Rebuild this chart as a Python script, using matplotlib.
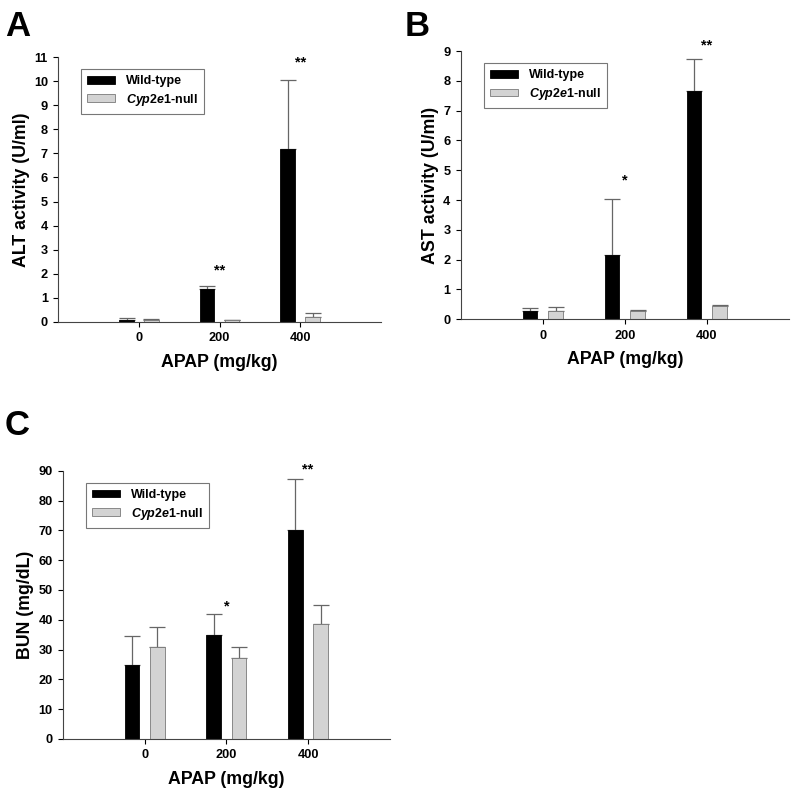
import numpy as np
import matplotlib.pyplot as plt

plt.rcParams['font.family'] = ['Liberation Sans', 'DejaVu Sans']
plt.rcParams['font.weight'] = 'bold'
plt.rcParams['mathtext.fontset'] = 'custom'
plt.rcParams['mathtext.it'] = 'Liberation Sans:italic:bold'
plt.rcParams['mathtext.rm'] = 'Liberation Sans:bold'

# --- данные ---
doses = ['0', '200', '400']

alt_wt = [0.10, 1.35, 7.20]
alt_wt_err = [0.05, 0.15, 2.85]
alt_ko = [0.08, 0.07, 0.22]
alt_ko_err = [0.05, 0.03, 0.16]
alt_stars = ['', '**', '**']
alt_star_y = [0, 2.13, 10.76]

ast_wt = [0.27, 2.15, 7.67]
ast_wt_err = [0.11, 1.87, 1.05]
ast_ko = [0.28, 0.28, 0.45]
ast_ko_err = [0.14, 0.03, 0.04]
ast_stars = ['', '*', '**']
ast_star_y = [0, 4.65, 9.2]

bun_wt = [24.8, 35.0, 70.0]
bun_wt_err = [9.6, 6.8, 17.4]
bun_ko = [30.8, 27.3, 38.5]
bun_ko_err = [6.8, 3.7, 6.3]
bun_stars = ['', '*', '**']
bun_star_y = [0, 44.5, 90.5]

W, H = 800, 798
fig = plt.figure(figsize=(W / 100, H / 100), dpi=100)


def panel(rect, wt, wt_err, ko, ko_err, stars, star_y, ymax, step, ylabel):
    ax = fig.add_axes(rect)
    x = np.arange(len(doses))
    bw = 0.18
    off = 0.155
    ax.bar(x - off, wt, bw, color='black', edgecolor='black', lw=0.6,
           label='Wild-type', zorder=2)
    ax.bar(x + off, ko, bw, color='#d3d3d3', edgecolor='#7a7a7a', lw=0.6,
           label=r'$\it{Cyp2e1}$-null', zorder=2)
    ax.errorbar(x - off, wt, yerr=[np.zeros(3), wt_err], fmt='none',
                ecolor='#666666', elinewidth=0.9, capsize=6, capthick=0.9, zorder=1)
    ax.errorbar(x + off, ko, yerr=[np.zeros(3), ko_err], fmt='none',
                ecolor='#666666', elinewidth=0.9, capsize=6, capthick=0.9, zorder=1)
    for xi, s, sy in zip(x, stars, star_y):
        if s:
            ax.text(xi, sy, s, ha='center', va='center', fontsize=10.5, fontweight='bold')
    ax.set_xlim(-1, 3)
    ax.set_ylim(0, ymax)
    ax.set_yticks(np.arange(0, ymax + step / 2, step))
    ax.set_xticks(x)
    ax.set_xticklabels(doses)
    ax.tick_params(labelsize=9.2, width=0.8, length=3.5, pad=4)
    for sp in ['top', 'right']:
        ax.spines[sp].set_visible(False)
    ax.spines['left'].set_color('#444444')
    ax.spines['bottom'].set_color('#444444')
    ax.set_xlabel('APAP (mg/kg)', fontsize=12.8, fontweight='bold', labelpad=7)
    ax.set_ylabel(ylabel, fontsize=12.8, fontweight='bold', labelpad=3)
    leg = ax.legend(loc='upper left', bbox_to_anchor=(0.07, 0.955), borderaxespad=0,
                    fontsize=9, fancybox=False, edgecolor='#777777', framealpha=1,
                    handlelength=2.2, handleheight=0.55, handletextpad=0.9,
                    borderpad=0.5, labelspacing=0.35)
    leg.get_frame().set_linewidth(0.8)
    return ax


panel([0.073, 0.5965, 0.403, 0.332], alt_wt, alt_wt_err, alt_ko, alt_ko_err,
      alt_stars, alt_star_y, 11, 1, 'ALT activity (U/ml)')
panel([0.576, 0.600, 0.410, 0.336], ast_wt, ast_wt_err, ast_ko, ast_ko_err,
      ast_stars, ast_star_y, 9, 1, 'AST activity (U/ml)')
panel([0.079, 0.074, 0.408, 0.336], bun_wt, bun_wt_err, bun_ko, bun_ko_err,
      bun_stars, bun_star_y, 90, 10, 'BUN (mg/dL)')

fig.text(0.006, 0.987, 'A', fontsize=25, fontweight='bold', va='top')
fig.text(0.506, 0.987, 'B', fontsize=25, fontweight='bold', va='top')
fig.text(0.006, 0.488, 'C', fontsize=25, fontweight='bold', va='top')

fig.savefig('out.png', dpi=100)
